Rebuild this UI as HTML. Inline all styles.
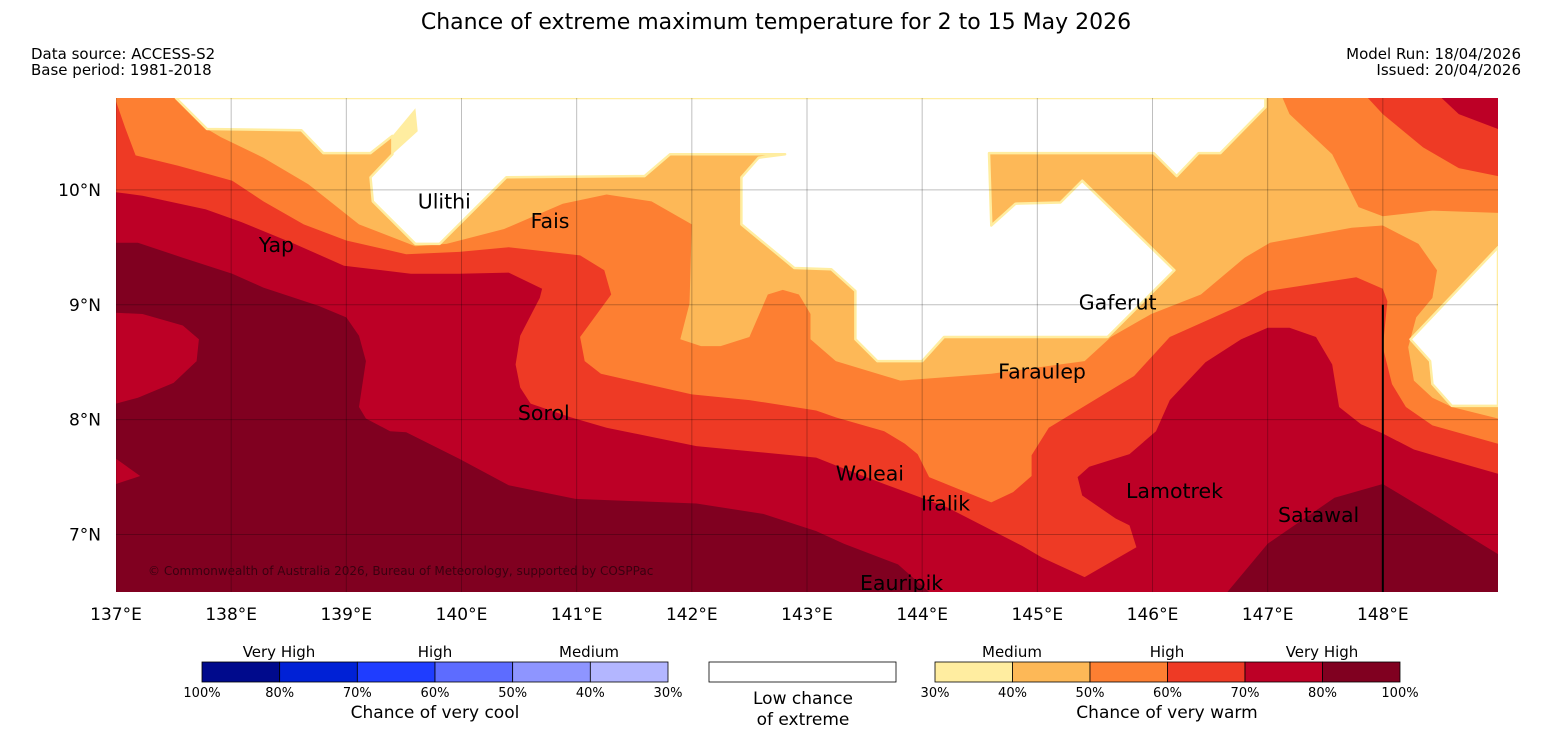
<!DOCTYPE html>
<html><head><meta charset="utf-8"><style>
html,body{margin:0;padding:0;background:#fff;width:1552px;height:736px;overflow:hidden}
text{font-family:"DejaVu Sans","Liberation Sans",sans-serif}
</style></head><body>
<svg id="chart" width="1552" height="736" viewBox="0 0 1552 736" xmlns="http://www.w3.org/2000/svg">
<text x="776" y="29" text-anchor="middle" font-size="22">Chance of extreme maximum temperature for 2 to 15 May 2026</text>
<text x="31" y="59" font-size="15">Data source: ACCESS-S2</text>
<text x="31" y="75" font-size="15">Base period: 1981-2018</text>
<text x="1521" y="59" font-size="15" text-anchor="end">Model Run: 18/04/2026</text>
<text x="1521" y="75" font-size="15" text-anchor="end">Issued: 20/04/2026</text>
<defs><clipPath id="mapclip"><rect x="116" y="98" width="1382" height="494"/></clipPath></defs>
<g id="map" clip-path="url(#mapclip)"></g>
<g id="axes"></g>
<g id="legend"></g>
</svg>
<script>
const lonTicks=[137,138,139,140,141,142,143,144,145,146,147,148];
const latTicks=[7,8,9,10];
const levelColors=["#fdb857","#fd7f32","#ee3a25","#bd0026","#800020"];
const bandBase=[[137,10.8],[149,10.8],[149,6.5],[137,6.5]];
const band50Main=[[137,10.8],[137.52,10.8],[137.79,10.53],[137.91,10.46],[138.28,10.28],[138.67,10.05],[138.82,9.93],[139.11,9.70],[139.60,9.51],[139.87,9.53],[140.37,9.66],[140.88,9.88],[141.26,9.96],[141.65,9.90],[142.00,9.70],[141.98,9.01],[141.90,8.70],[142.08,8.64],[142.25,8.64],[142.50,8.72],[142.66,9.09],[142.79,9.13],[142.93,9.09],[143.03,8.92],[143.03,8.70],[143.25,8.51],[143.81,8.34],[144.60,8.40],[145.41,8.51],[145.64,8.72],[145.99,8.92],[146.42,9.09],[146.80,9.41],[147.02,9.54],[147.73,9.67],[148.00,9.69],[148.31,9.53],[148.47,9.30],[148.43,9.06],[148.29,8.89],[148.22,8.63],[148.27,8.34],[148.43,8.19],[148.60,8.11],[149,8.01],[149,6.5],[137,6.5]];
const band50Top=[[147.13,10.8],[147.19,10.66],[147.56,10.31],[147.79,9.85],[148.00,9.77],[148.43,9.82],[149,9.80],[149,10.8]];
const band60Main=[[137,10.77],[137.08,10.54],[137.17,10.30],[137.54,10.21],[138.01,10.08],[138.28,9.90],[138.63,9.70],[139.00,9.56],[139.52,9.44],[139.98,9.46],[140.41,9.50],[141.03,9.43],[141.24,9.30],[141.30,9.09],[141.03,8.72],[141.07,8.51],[141.21,8.40],[142.00,8.22],[142.50,8.17],[143.08,8.08],[143.25,8.02],[143.67,7.90],[143.85,7.79],[143.96,7.70],[144.06,7.50],[144.60,7.28],[144.79,7.37],[144.95,7.51],[144.95,7.69],[145.10,7.93],[145.84,8.38],[146.15,8.72],[146.80,9.01],[147.00,9.12],[147.77,9.24],[148.00,9.14],[148.04,9.03],[148.00,8.63],[148.08,8.31],[148.20,8.11],[148.43,7.95],[149,7.79],[149,6.5],[137,6.5]];
const band60Top=[[147.87,10.8],[148.00,10.66],[148.35,10.37],[148.66,10.19],[149,10.12],[149,10.8]];
const band70Top=[[148.51,10.8],[148.66,10.66],[149,10.53],[149,10.8]];
const band70Main=[[137,9.98],[137.23,9.95],[137.78,9.83],[138.09,9.72],[138.55,9.53],[138.98,9.34],[139.56,9.27],[139.98,9.27],[140.41,9.28],[140.70,9.14],[140.68,9.06],[140.51,8.73],[140.47,8.48],[140.51,8.28],[140.60,8.14],[140.95,8.02],[141.26,7.93],[142.04,7.77],[143.08,7.67],[143.28,7.59],[143.67,7.44],[144.21,7.24],[144.87,6.90],[145.04,6.80],[145.41,6.63],[145.86,6.89],[145.80,7.08],[145.68,7.14],[145.39,7.34],[145.35,7.50],[145.45,7.59],[145.80,7.70],[146.03,7.90],[146.15,8.17],[146.46,8.50],[146.77,8.70],[147.00,8.80],[147.19,8.80],[147.42,8.72],[147.56,8.48],[147.62,8.11],[147.81,7.96],[148.00,7.88],[148.27,7.74],[148.51,7.67],[149,7.53],[149,6.5],[137,6.5]];
const band80Left=[[137,9.54],[137.19,9.54],[137.58,9.41],[138.01,9.27],[138.28,9.15],[138.76,8.99],[139.00,8.89],[139.11,8.73],[139.17,8.51],[139.11,8.11],[139.17,8.01],[139.38,7.90],[139.52,7.89],[139.98,7.66],[140.41,7.43],[140.99,7.31],[142.04,7.27],[142.62,7.18],[143.08,7.03],[143.32,6.92],[143.79,6.74],[144.06,6.5],[137,6.5]];
const band80Right=[[146.65,6.5],[147.00,6.92],[147.58,7.32],[148.00,7.44],[148.43,7.18],[149,6.83],[149,6.5]];
const island70A=[[137,8.93],[137.23,8.92],[137.58,8.82],[137.72,8.70],[137.70,8.51],[137.50,8.32],[137.19,8.19],[137,8.14]];
const island70B=[[137,7.66],[137.21,7.51],[137,7.44]];
const lowMain=[[137.52,10.8],[137.79,10.53],[138.61,10.52],[138.80,10.32],[139.21,10.32],[139.40,10.47],[139.40,10.31],[139.21,10.11],[139.23,9.90],[139.60,9.53],[139.81,9.53],[140.39,10.11],[141.59,10.12],[141.81,10.31],[142.81,10.31],[142.58,10.28],[142.43,10.11],[142.43,9.70],[142.89,9.32],[143.21,9.31],[143.42,9.12],[143.42,8.70],[143.61,8.51],[144.00,8.51],[144.19,8.72],[145.61,8.72],[146.19,9.30],[145.39,10.08],[145.20,9.89],[144.81,9.88],[144.60,9.69],[144.58,10.32],[146.01,10.32],[146.21,10.12],[146.40,10.32],[146.59,10.32],[146.98,10.72],[146.98,10.8]];
const lowRight=[[149,9.50],[148.24,8.70],[148.41,8.51],[148.43,8.31],[148.60,8.12],[149,8.12]];
const band30Patch=[[139.40,10.47],[139.60,10.71],[139.62,10.51],[139.40,10.31]];
const placeNames=["Ulithi","Fais","Yap","Sorol","Gaferut","Faraulep","Woleai","Ifalik","Lamotrek","Satawal","Eauripik"];
const placeLon=[139.62,140.60,138.24,140.49,145.36,144.66,143.25,143.99,145.77,147.09,143.46];
const placeLat=[9.90,9.73,9.52,8.06,9.02,8.42,7.53,7.27,7.38,7.17,6.58];
const coolLabels=["100%","80%","70%","60%","50%","40%","30%"];
const warmLabels=["30%","40%","50%","60%","70%","80%","100%"];
const coolColors=["#000a8c","#0021d6","#1f3dff","#5d6cff","#8e95ff","#b3b6ff"];
const warmColors=["#ffeda0","#fdb857","#fd7f32","#ee3a25","#bd0026","#800020"];

const NS="http://www.w3.org/2000/svg";
const x0=116,x1=1498,y0=98,y1=592;
function xScale(lon){return x0+(lon-137)*(x1-x0)/12;}
function yScale(lat){return y0+(10.8-lat)*(y1-y0)/4.3;}
function mk(tag,attrs,parent){const e=document.createElementNS(NS,tag);for(const k in attrs)e.setAttribute(k,attrs[k]);parent.appendChild(e);return e;}
const map=document.getElementById('map');
function poly(pts,fill,name,stroke){
  const p=mk('polygon',{points:pts.map(q=>xScale(q[0]).toFixed(1)+','+yScale(q[1]).toFixed(1)).join(' '),fill:fill},map);
  if(stroke){p.setAttribute('stroke',stroke);p.setAttribute('stroke-width','2.5');p.setAttribute('stroke-linejoin','round');}
  
  
  return p;
}
poly(bandBase,levelColors[0],'band-40-50');
poly(band50Main,levelColors[1],'band-50-60-main');
poly(band50Top,levelColors[1],'band-50-60-top');
poly(band60Main,levelColors[2],'band-60-70-main');
poly(band60Top,levelColors[2],'band-60-70-top');
poly(band70Top,levelColors[3],'band-70-80-top');
poly(band70Main,levelColors[3],'band-70-80-main');
poly(band80Left,levelColors[4],'band-80-100-left');
poly(band80Right,levelColors[4],'band-80-100-right');
poly(island70A,levelColors[3],'band-70-80-island-a');
poly(island70B,levelColors[3],'band-70-80-island-b');
poly(lowMain,'#ffffff','low-chance-main','#ffeda0');
poly(lowRight,'#ffffff','low-chance-right','#ffeda0');
poly(band30Patch,'#ffeda0','band-30-40-patch');
lonTicks.forEach(l=>{const g=mk('line',{x1:xScale(l),x2:xScale(l),y1:y0,y2:y1,stroke:'#000','stroke-opacity':0.25,'stroke-width':1},map);

});
latTicks.forEach(l=>{const g=mk('line',{x1:x0,x2:x1,y1:yScale(l),y2:yScale(l),stroke:'#000','stroke-opacity':0.25,'stroke-width':1},map);

});
const bl=mk('line',{x1:xScale(148),x2:xScale(148),y1:yScale(9.0),y2:y1,stroke:'#000','stroke-width':2},map);


placeNames.forEach((n,i)=>{const t=mk('text',{x:xScale(placeLon[i]),y:yScale(placeLat[i])+7,'font-size':20.5,fill:'#000'},map);t.textContent=n;

});
const cp=mk('text',{x:148,y:575,'font-size':12,fill:'#3a0010'},map);cp.textContent='© Commonwealth of Australia 2026, Bureau of Meteorology, supported by COSPPac';


const axes=document.getElementById('axes');
lonTicks.forEach(l=>{const t=mk('text',{x:xScale(l),y:620,'font-size':17,'text-anchor':'middle'},axes);t.textContent=l+'°E';

});
latTicks.forEach(l=>{const t=mk('text',{x:101,y:yScale(l)+6,'font-size':17,'text-anchor':'end'},axes);t.textContent=l+'°N';

});
const lg=document.getElementById('legend');
function bar(xs,xe,colors,labels,tops,topX,title,tx,nm){
  const w=(xe-xs)/colors.length;
  colors.forEach((c,i)=>{const r=mk('rect',{x:xs+i*w,y:662,width:w,height:20,fill:c,stroke:'#000','stroke-width':0.8},lg);
  
  });
  labels.forEach((s,i)=>{const t=mk('text',{x:xs+i*w,y:697,'font-size':13,'text-anchor':'middle'},lg);t.textContent=s;
  
  });
  tops.forEach((s,i)=>{const t=mk('text',{x:topX[i],y:657,'font-size':15,'text-anchor':'middle'},lg);t.textContent=s;
  
  });
  const t=mk('text',{x:tx,y:718,'font-size':17,'text-anchor':'middle'},lg);t.textContent=title;
  
  
}
bar(202,668,coolColors,coolLabels,["Very High","High","Medium"],[279,435,589],"Chance of very cool",435,'cool-legend');
bar(935,1400,warmColors,warmLabels,["Medium","High","Very High"],[1012,1167,1322],"Chance of very warm",1167,'warm-legend');
const lb=mk('rect',{x:709,y:662,width:187,height:20,fill:'#fff',stroke:'#000','stroke-width':0.8},lg);


const l1=mk('text',{x:803,y:704,'font-size':17,'text-anchor':'middle'},lg);l1.textContent='Low chance';


const l2=mk('text',{x:803,y:725,'font-size':17,'text-anchor':'middle'},lg);l2.textContent='of extreme';


</script>
</body></html>
